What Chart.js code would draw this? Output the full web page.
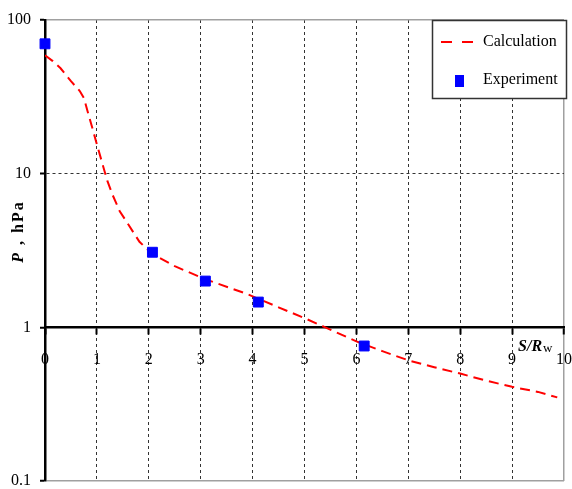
<!DOCTYPE html>
<html>
<head>
<meta charset="utf-8">
<script src="https://cdn.jsdelivr.net/npm/chart.js@4/dist/chart.umd.min.js"></script>
<style>
  body { margin: 0; background: #fff; }
  canvas { display: block; }
</style>
</head>
<body>
<canvas id="chart" width="572" height="489"></canvas>
<script>
// Calculated pressure curve
const calcX = [0, 0.15, 0.3, 0.5, 0.67, 0.75, 0.82, 0.9, 1.0, 1.1, 1.2, 1.3, 1.44, 1.6, 1.82, 2.07, 2.5, 3.1, 3.87, 4.5, 5.02, 5.4, 6.0, 6.5, 7.0, 7.5, 8.0, 8.5, 9.0, 9.5, 9.87];
const calcY = [59, 54, 48.5, 40, 34.5, 31, 25.5, 20.5, 15.5, 11.8, 9.0, 7.3, 5.7, 4.7, 3.6, 3.0, 2.5, 2.05, 1.66, 1.35, 1.14, 1.0, 0.81, 0.7, 0.61, 0.55, 0.5, 0.45, 0.41, 0.38, 0.35];

// Measured points
const expX = [0, 2.07, 3.09, 4.11, 6.15];
const expY = [70, 3.08, 2.0, 1.46, 0.756];

const yTicks = [0.1, 1, 10, 100];
const serif = "'Liberation Serif', 'Times New Roman', serif";

Chart.defaults.font.family = serif;
Chart.defaults.font.size = 16;
Chart.defaults.color = '#000';

// legend box and axis titles drawn on top of the chart
const overlay = {
    id: 'overlay',
    afterDraw(chart) {
        const { ctx, chartArea, scales } = chart;
        const calc = chart.data.datasets[1];
        const exp = chart.data.datasets[0];

        ctx.save();
        // legend
        ctx.fillStyle = '#fff';
        ctx.fillRect(432, 20, 135, 79);
        ctx.strokeStyle = '#333';
        ctx.lineWidth = 1.5;
        ctx.strokeRect(432.5, 20.5, 134, 78);

        ctx.strokeStyle = calc.borderColor;
        ctx.lineWidth = 2;
        ctx.setLineDash([11, 10]);
        ctx.beginPath();
        ctx.moveTo(441, 42);
        ctx.lineTo(473, 42);
        ctx.stroke();
        ctx.setLineDash([]);

        ctx.fillStyle = exp.backgroundColor;
        ctx.fillRect(455, 75, 9, 12);

        ctx.fillStyle = '#000';
        ctx.font = '16px ' + serif;
        ctx.textBaseline = 'middle';
        ctx.fillText(calc.label, 483, 42);
        ctx.fillText(exp.label, 483, 80);

        // x axis title S/Rw
        const xs = scales.x.getPixelForValue(9) + 6;
        const ys = scales.y.getPixelForValue(1) + 24;
        ctx.textBaseline = 'alphabetic';
        ctx.font = 'bold italic 16px ' + serif;
        ctx.fillText('S/R', xs, ys);
        const w = ctx.measureText('S/R').width;
        ctx.font = '13px ' + serif;
        ctx.fillText('w', xs + w + 1, ys + 1);

        // y axis title
        ctx.translate(19, (chartArea.top + chartArea.bottom) / 2 - 19);
        ctx.rotate(-Math.PI / 2);
        ctx.letterSpacing = '2px';
        ctx.textBaseline = 'middle';
        ctx.font = 'bold italic 16px ' + serif;
        const w1 = ctx.measureText('P').width;
        ctx.font = 'bold 16px ' + serif;
        const w2 = ctx.measureText(' , hPa').width;
        let px = -(w1 + w2) / 2;
        ctx.font = 'bold italic 16px ' + serif;
        ctx.fillText('P', px, 0);
        ctx.font = 'bold 16px ' + serif;
        ctx.fillText(' , hPa', px + w1, 0);
        ctx.restore();
    }
};

new Chart(document.getElementById('chart'), {
    type: 'line',
    data: {
        datasets: [{
            label: 'Experiment',
            data: expX.map((x, i) => ({ x: x, y: expY[i] })),
            showLine: false,
            backgroundColor: '#0000ff',
            borderColor: '#0000ff',
            pointStyle: 'rect',
            pointRadius: 7,
            pointBorderWidth: 1,
            clip: false,
            order: 0
        }, {
            label: 'Calculation',
            data: calcX.map((x, i) => ({ x: x, y: calcY[i] })),
            borderColor: '#ff0000',
            borderWidth: 2,
            borderDash: [10, 6],
            pointRadius: 0,
            tension: 0,
            fill: false,
            order: 1
        }]
    },
    options: {
        responsive: false,
        animation: false,
        devicePixelRatio: 1,
        layout: { padding: { left: 0, top: 20, right: 6, bottom: 8 } },
        plugins: {
            legend: { display: false },
            tooltip: { enabled: false }
        },
        scales: {
            x: {
                type: 'linear',
                position: { y: 1 },
                min: 0,
                max: 10,
                ticks: { stepSize: 1, padding: 17, maxRotation: 0, autoSkip: false, color: '#000' },
                grid: {
                    color: ctx => ctx.tick.value === 10 ? '#a0a0a0' : (ctx.tick.value === 0 ? 'rgba(0,0,0,0)' : '#333'),
                    lineWidth: ctx => ctx.tick.value === 10 ? 1.5 : 1,
                    tickLength: 6,
                    tickColor: '#000',
                    tickWidth: 2
                },
                border: {
                    color: '#000',
                    width: 2.5,
                    dash: ctx => (ctx.type === 'tick' && ctx.tick.value > 0 && ctx.tick.value < 10) ? [3, 3] : []
                },
                afterFit: s => { s.paddingLeft = 0; s.paddingRight = 0; }
            },
            y: {
                type: 'logarithmic',
                position: 'left',
                min: 0.1,
                max: 100,
                afterBuildTicks: s => { s.ticks = yTicks.map(v => ({ value: v })); },
                ticks: { callback: v => String(v), padding: 9, color: '#000' },
                grid: {
                    color: ctx => ctx.tick.value === 10 ? '#333' : (ctx.tick.value === 1 ? 'rgba(0,0,0,0)' : '#a0a0a0'),
                    lineWidth: ctx => ctx.tick.value === 10 ? 1 : 1.5,
                    tickLength: 5,
                    tickColor: '#000',
                    tickWidth: 2
                },
                border: {
                    color: '#000',
                    width: 2.5,
                    dash: ctx => (ctx.type === 'tick' && ctx.tick.value === 10) ? [3, 3] : []
                },
                afterFit: s => { s.width = 45; s.paddingTop = 0; s.paddingBottom = 0; }
            }
        }
    },
    plugins: [overlay]
});
</script>
</body>
</html>
